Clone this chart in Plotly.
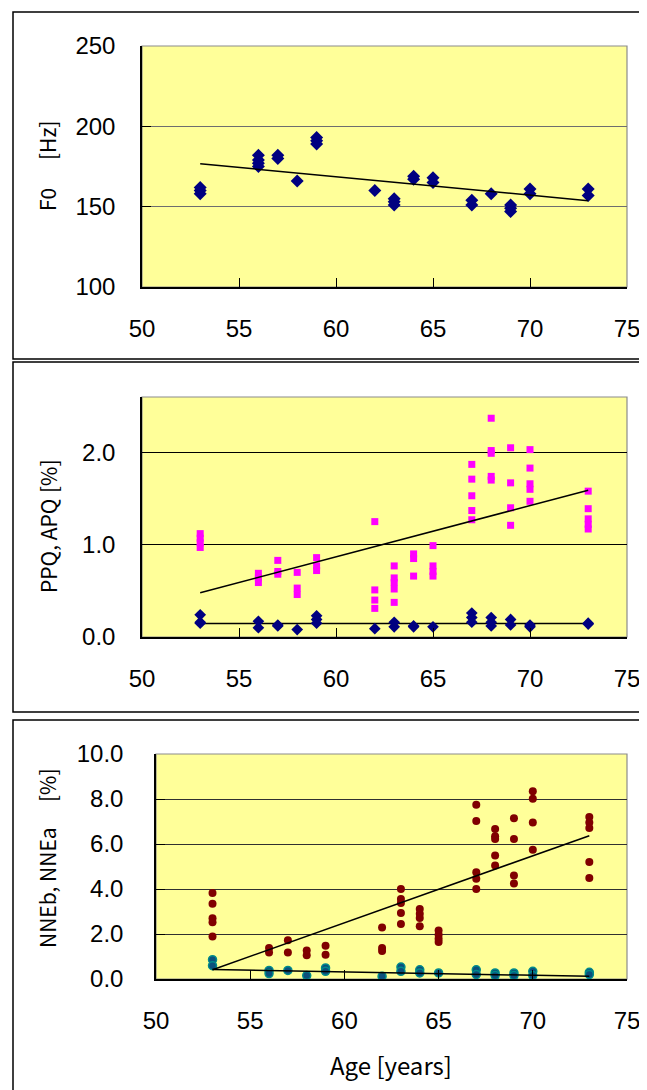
import plotly.graph_objects as go

# ---------------- data ----------------
f0_age = [53, 53, 53, 56, 56, 56, 56, 57, 57, 58, 59, 59, 59, 62, 63, 63, 63,
          64, 64, 65, 65, 67, 67, 68, 69, 69, 69, 70, 70, 73, 73]
f0_val = [158, 160, 162, 175, 177, 179, 182, 180, 182, 166, 189, 191, 193, 160,
          151, 153, 155, 167, 169, 165, 168, 151, 154, 158, 147, 149, 151, 158, 161,
          157, 161]
f0_trend_age = [53, 73]
f0_trend_val = [176.7, 153.7]

apq_age = [53, 53, 53, 53, 56, 56, 56, 57, 57, 57, 58, 58, 58, 59, 59, 59,
           62, 62, 62, 62, 63, 63, 63, 63, 63, 64, 64, 64, 65, 65, 65, 65,
           67, 67, 67, 67, 67, 68, 68, 68, 68, 68, 69, 69, 69, 69,
           70, 70, 70, 70, 70, 73, 73, 73, 73, 73]
apq_val = [1.12, 1.07, 1.02, 0.97, 0.69, 0.64, 0.59, 0.83, 0.71, 0.68, 0.70, 0.53, 0.46,
           0.86, 0.77, 0.72, 1.25, 0.51, 0.40, 0.31, 0.77, 0.64, 0.59, 0.52, 0.375,
           0.90, 0.85, 0.66, 0.99, 0.77, 0.71, 0.66, 1.87, 1.71, 1.53, 1.37, 1.27,
           2.37, 2.02, 1.99, 1.74, 1.70, 2.05, 1.67, 1.40, 1.21,
           2.03, 1.83, 1.66, 1.60, 1.47, 1.58, 1.39, 1.28, 1.22, 1.17]
ppq_age = [53, 53, 53, 56, 56, 57, 57, 58, 59, 59, 59, 62, 63, 63, 64, 64, 65,
           67, 67, 67, 68, 68, 68, 69, 69, 70, 70, 73, 73]
ppq_val = [0.24, 0.16, 0.15, 0.17, 0.10, 0.13, 0.12, 0.08, 0.23, 0.19, 0.15, 0.09,
           0.16, 0.11, 0.12, 0.11, 0.11, 0.26, 0.21, 0.16, 0.21, 0.16, 0.12,
           0.19, 0.13, 0.13, 0.11, 0.15, 0.14]
apq_trend_age = [53, 73]
apq_trend_val = [0.48, 1.59]
ppq_trend_age = [53, 73]
ppq_trend_val = [0.145, 0.145]

nneb_age = [53, 53, 53, 53, 53, 56, 56, 57, 57, 58, 58, 59, 59, 62, 62, 62,
            63, 63, 63, 63, 63, 64, 64, 64, 64, 65, 65, 65, 65,
            67, 67, 67, 67, 67, 68, 68, 68, 68, 68, 69, 69, 69, 69,
            70, 70, 70, 70, 73, 73, 73, 73, 73]
nneb_val = [3.82, 3.35, 2.70, 2.52, 1.89, 1.38, 1.18, 1.72, 1.18, 1.27, 1.05, 1.48, 1.08,
            2.29, 1.38, 1.24, 4.00, 3.56, 3.38, 2.93, 2.44, 3.11, 2.90, 2.71, 2.34,
            2.16, 1.97, 1.79, 1.64, 7.75, 7.02, 4.74, 4.46, 4.00,
            6.67, 6.34, 6.22, 5.49, 5.04, 7.14, 6.22, 4.60, 4.24,
            8.34, 8.01, 6.96, 5.75, 7.20, 6.96, 6.71, 5.20, 4.49]
nnea_age = [53, 53, 56, 56, 57, 58, 59, 59, 62, 63, 63, 64, 64, 65, 67, 67,
            68, 68, 69, 69, 70, 70, 73, 73]
nnea_val = [0.86, 0.59, 0.38, 0.24, 0.38, 0.15, 0.49, 0.34, 0.12, 0.53, 0.34,
            0.41, 0.27, 0.27, 0.41, 0.20, 0.27, 0.15, 0.27, 0.15, 0.34, 0.15, 0.30, 0.20]
nneb_trend_age = [53, 73]
nneb_trend_val = [0.41, 6.37]
nnea_trend_age = [53, 73]
nnea_trend_val = [0.42, 0.12]

x_ticks = [50, 55, 60, 65, 70, 75]

# ---------------- layout helpers ----------------
W, H = 647, 1090
OFF = 8  # page body margin: figure div starts at (8, 8)
NAVY = "#000080"
MAG = "#FF00FF"
RED = "#800000"
YEL = "#FFFF99"
TICKFONT = dict(family="Liberation Sans, Arial", size=24, color="black")
TITLEFONT = dict(family="Noto Sans CJK JP", size=21, color="black")


def py(y):
    return 1 - (y - OFF) / H


def px(x):
    return (x - OFF) / W


panels = [
    dict(x0=142, x1=627, y0=46, y1=287),
    dict(x0=142, x1=627, y0=397, y1=637),
    dict(x0=156, x1=627, y0=754, y1=979),
]

fig = go.Figure()

# panel 1
fig.add_trace(go.Scatter(x=f0_age, y=f0_val, mode="markers", xaxis="x", yaxis="y",
                         marker=dict(symbol="diamond", size=10, color=NAVY)))
fig.add_trace(go.Scatter(x=f0_trend_age, y=f0_trend_val, mode="lines", xaxis="x", yaxis="y",
                         line=dict(color="black", width=1.5)))
# panel 2
fig.add_trace(go.Scatter(x=ppq_trend_age, y=ppq_trend_val, mode="lines", xaxis="x2", yaxis="y2",
                         line=dict(color="black", width=1.5)))
fig.add_trace(go.Scatter(x=ppq_age, y=ppq_val, mode="markers", xaxis="x2", yaxis="y2",
                         marker=dict(symbol="diamond", size=9, color=NAVY)))
fig.add_trace(go.Scatter(x=apq_age, y=apq_val, mode="markers", xaxis="x2", yaxis="y2",
                         marker=dict(symbol="square", size=7, color=MAG)))
fig.add_trace(go.Scatter(x=apq_trend_age, y=apq_trend_val, mode="lines", xaxis="x2", yaxis="y2",
                         line=dict(color="black", width=1.5)))
# panel 3
fig.add_trace(go.Scatter(x=nneb_age, y=nneb_val, mode="markers", xaxis="x3", yaxis="y3",
                         marker=dict(symbol="circle", size=8, color=RED)))
fig.add_trace(go.Scatter(x=nnea_age, y=nnea_val, mode="markers", xaxis="x3", yaxis="y3",
                         marker=dict(symbol="circle", size=8, color="#0c4f7c",
                                     line=dict(color="#008b8b", width=1.5))))
fig.add_trace(go.Scatter(x=nneb_trend_age, y=nneb_trend_val, mode="lines", xaxis="x3", yaxis="y3",
                         line=dict(color="black", width=1.5)))
fig.add_trace(go.Scatter(x=nnea_trend_age, y=nnea_trend_val, mode="lines", xaxis="x3", yaxis="y3",
                         line=dict(color="black", width=1.5)))

yspecs = [
    dict(range=[100, 250], tickvals=[100, 150, 200, 250], fmt="", grid="#6e6e6e", stand=20),
    dict(range=[0, 2.6], tickvals=[0, 1, 2], fmt=".1f", grid="#000000", stand=20),
    dict(range=[0, 10], tickvals=[0, 2, 4, 6, 8, 10], fmt=".1f", grid="#303030", stand=26),
]

layout = dict(width=W, height=H,
              margin=dict(l=0, r=0, t=0, b=0, pad=0, autoexpand=False),
              paper_bgcolor="white", showlegend=False)
shapes = []
for i, (p, ys) in enumerate(zip(panels, yspecs)):
    sfx = "" if i == 0 else str(i + 1)
    layout["xaxis" + sfx] = dict(
        domain=[px(p["x0"]), px(p["x1"])], range=[50, 75], tickvals=x_ticks,
        anchor="y" + sfx, showgrid=False, zeroline=False, showline=True,
        linecolor="black", linewidth=1.5, ticks="inside", ticklen=9,
        tickcolor="black", tickfont=TICKFONT, ticklabelstandoff=19,
        automargin=False, fixedrange=True)
    layout["yaxis" + sfx] = dict(
        domain=[py(p["y1"]), py(p["y0"])], range=ys["range"], tickvals=ys["tickvals"],
        tickformat=ys["fmt"], anchor="x" + sfx, showgrid=True, gridcolor=ys["grid"],
        gridwidth=1, zeroline=False, showline=True, linecolor="black", linewidth=1.5,
        ticks="inside", ticklen=9, tickcolor="black", tickfont=TICKFONT,
        ticklabelstandoff=ys["stand"], automargin=False, fixedrange=True)
    # yellow plot background + gray border
    shapes.append(dict(type="rect", xref="paper", yref="paper", layer="below",
                       x0=px(p["x0"]), x1=px(p["x1"]), y0=py(p["y1"]), y1=py(p["y0"]),
                       fillcolor=YEL, line=dict(color="#8c8c8c", width=1.2)))

# outer frames
frames = [(12, 359), (362, 712), (720, 1105)]
for y0, y1 in frames:
    shapes.append(dict(type="rect", xref="paper", yref="paper", layer="above",
                       x0=px(13), x1=px(700), y0=py(y1), y1=py(y0),
                       line=dict(color="black", width=1.5), fillcolor="rgba(0,0,0,0)"))

layout["shapes"] = shapes
layout["plot_bgcolor"] = "rgba(0,0,0,0)"


def ann(text, x, y, angle=-90, size=21):
    return dict(text=text, x=px(x), y=py(y), xref="paper", yref="paper",
                xanchor="center", yanchor="middle", textangle=angle,
                showarrow=False, font=dict(TITLEFONT, size=size))


layout["annotations"] = [
    ann("F0", 47, 200), ann("[Hz]", 47, 141),
    ann("PPQ, APQ", 48, 546), ann("[%]", 48, 476),
    ann("NNEb, NNEa", 47, 888), ann("[%]", 47, 785),
    ann("Age [years]", 391, 1064, angle=0, size=24),
]

fig.update_layout(**layout)
fig.write_html("out.html")
